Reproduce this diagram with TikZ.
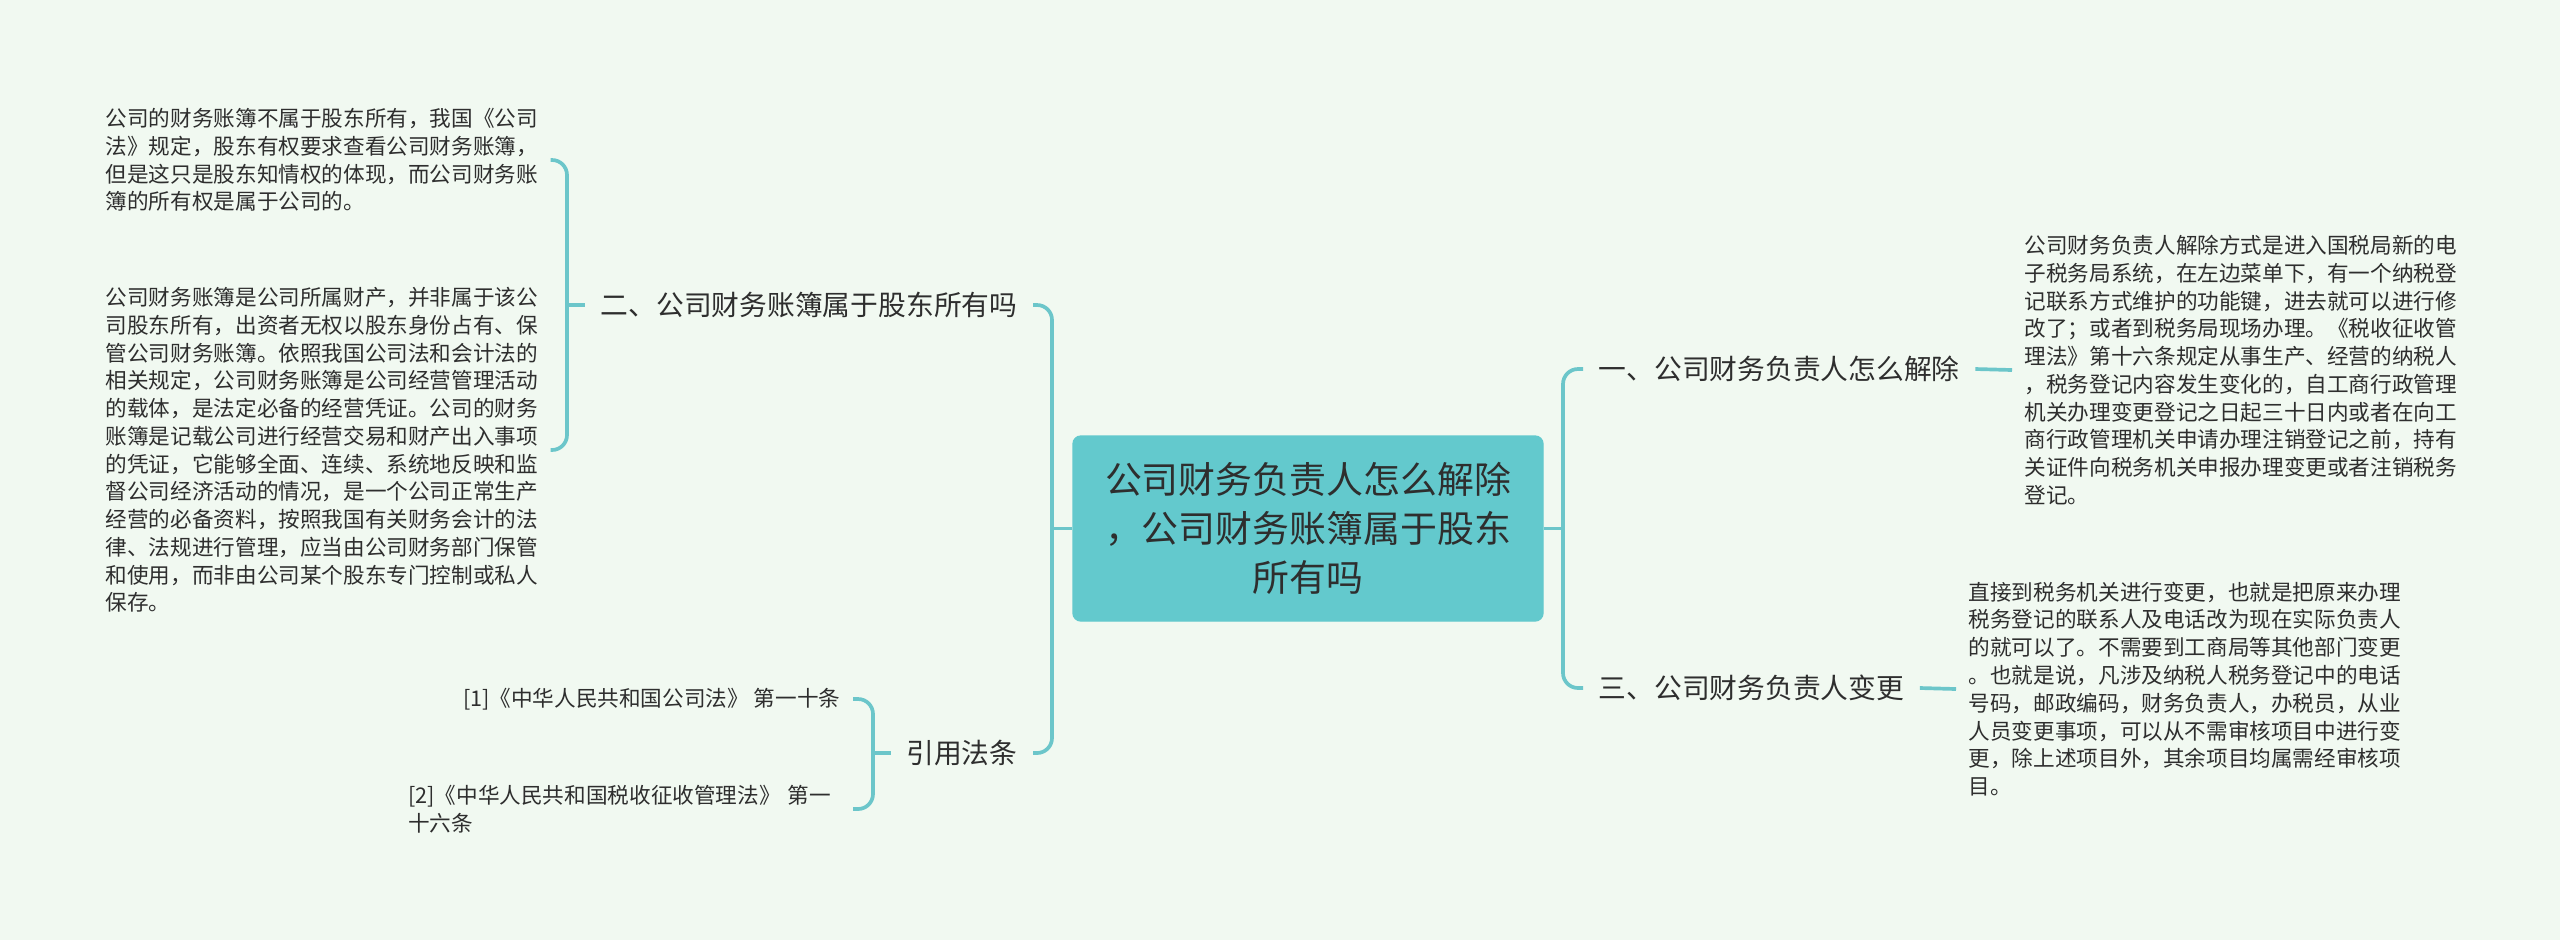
\documentclass[tikz,border=0pt]{standalone}
\usepackage{fontspec}
\setmainfont{Noto Sans CJK SC}
\usepackage{xcolor}
\usepackage{tikz}
\usetikzlibrary{positioning,calc}
\definecolor{bgmint}{HTML}{F1F9F1}
\definecolor{tealline}{HTML}{6CC6CA}
\definecolor{rootfill}{HTML}{63C9CD}
\definecolor{inktext}{HTML}{2E2E2E}
\tikzset{
  rootbox/.style={draw=rootfill,fill=rootfill,rounded corners=0.08cm,align=center,
    minimum width=4.70cm,minimum height=1.85cm,text=inktext,
    font=\fontsize{10.5}{14}\selectfont},
  branchtext/.style={inner xsep=0.15cm,inner ysep=0.05cm,text=inktext,
    font=\fontsize{7.9}{10}\selectfont},
  leaftext/.style={inner xsep=0.12cm,inner ysep=0.05cm,align=left,text=inktext,
    font=\fontsize{6.15}{7.9}\selectfont},
  linkline/.style={draw=tealline,line width=1.05pt,rounded corners=0.15cm}
}

\begin{document}
\begin{tikzpicture}
  \fill[bgmint] (0,0) rectangle (25.6,-9.4);
  \useasboundingbox (0,0) rectangle (25.6,-9.4);

  \node[rootbox] (root) at (13.08,-5.285)
    {公司财务负责人怎么解除\\，公司财务账簿属于股东\\所有吗};

  \node[branchtext,anchor=east] (own) at (10.33,-3.05) {二、公司财务账簿属于股东所有吗};
  \node[branchtext,anchor=east] (refs) at (10.33,-7.53) {引用法条};
  \node[branchtext,anchor=west] (remove) at (15.83,-3.69) {一、公司财务负责人怎么解除};
  \node[branchtext,anchor=west] (change) at (15.83,-6.88) {三、公司财务负责人变更};

  \node[leaftext,anchor=west] (ownA) at (0.93,-1.60)
    {公司的财务账簿不属于股东所有，我国《公司\\
     法》规定，股东有权要求查看公司财务账簿，\\
     但是这只是股东知情权的体现，而公司财务账\\
     簿的所有权是属于公司的。};
  \node[leaftext,anchor=west] (ownB) at (0.93,-4.50)
    {公司财务账簿是公司所属财产，并非属于该公\\
     司股东所有，出资者无权以股东身份占有、保\\
     管公司财务账簿。依照我国公司法和会计法的\\
     相关规定，公司财务账簿是公司经营管理活动\\
     的载体，是法定必备的经营凭证。公司的财务\\
     账簿是记载公司进行经营交易和财产出入事项\\
     的凭证，它能够全面、连续、系统地反映和监\\
     督公司经济活动的情况，是一个公司正常生产\\
     经营的必备资料，按照我国有关财务会计的法\\
     律、法规进行管理，应当由公司财务部门保管\\
     和使用，而非由公司某个股东专门控制或私人\\
     保存。};
  \node[leaftext,anchor=east] (refA) at (8.53,-6.99)
    {[1]《中华人民共和国公司法》 第一十条};
  \node[leaftext,anchor=east,text width=4.32cm] (refB) at (8.53,-8.09)
    {[2]《中华人民共和国税收征收管理法》 第一\\十六条};
  \node[leaftext,anchor=west] (removeA) at (20.12,-3.70)
    {公司财务负责人解除方式是进入国税局新的电\\
     子税务局系统，在左边菜单下，有一个纳税登\\
     记联系方式维护的功能键，进去就可以进行修\\
     改了；或者到税务局现场办理。《税收征收管\\
     理法》第十六条规定从事生产、经营的纳税人\\
     ，税务登记内容发生变化的，自工商行政管理\\
     机关办理变更登记之日起三十日内或者在向工\\
     商行政管理机关申请办理注销登记之前，持有\\
     关证件向税务机关申报办理变更或者注销税务\\
     登记。};
  \node[leaftext,anchor=west] (changeA) at (19.56,-6.89)
    {直接到税务机关进行变更，也就是把原来办理\\
     税务登记的联系人及电话改为现在实际负责人\\
     的就可以了。不需要到工商局等其他部门变更\\
     。也就是说，凡涉及纳税人税务登记中的电话\\
     号码，邮政编码，财务负责人，办税员，从业\\
     人员变更事项，可以从不需审核项目中进行变\\
     更，除上述项目外，其余项目均属需经审核项\\
     目。};

  \coordinate (joinL) at (10.52,-5.285);
  \coordinate (joinR) at (15.63,-5.285);
  \coordinate (joinOwn) at (5.67,-3.05);
  \coordinate (joinRefs) at (8.73,-7.53);

  \draw[linkline] (root.west) -- (joinL);
  \draw[linkline] (own.east) -| (joinL) |- (refs.east);
  \draw[linkline] (root.east) -- (joinR);
  \draw[linkline] (remove.west) -| (joinR) |- (change.west);
  \draw[linkline] (ownA.east) -| (joinOwn) |- (ownB.east);
  \draw[linkline] (joinOwn) -- (own.west);
  \draw[linkline] (refA.east) -| (joinRefs) |- (refB.east);
  \draw[linkline] (joinRefs) -- (refs.west);
  \draw[linkline] (remove.east) -- (removeA.west);
  \draw[linkline] (change.east) -- (changeA.west);
\end{tikzpicture}
\end{document}
